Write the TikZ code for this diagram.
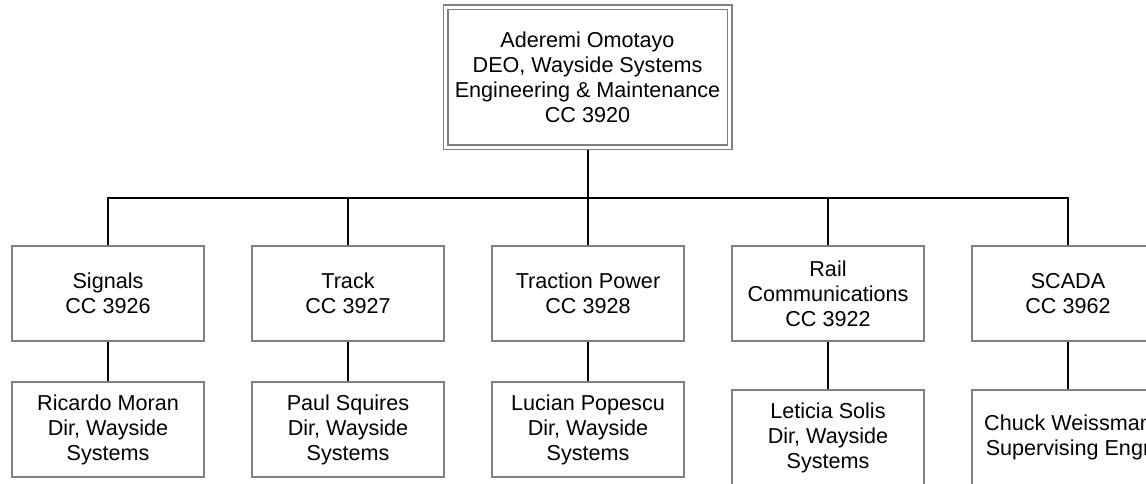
\documentclass[tikz,border=0pt]{standalone}
\usepackage{fontspec}
\setmainfont{Liberation Sans}
\usepackage{xcolor}
\usetikzlibrary{positioning,backgrounds}

\definecolor{boxgray}{RGB}{128,128,128}

\begin{document}
\begin{tikzpicture}[
  x=1pt, y=-1pt,
  unit/.style={draw=boxgray, line width=1.5pt, fill=white, align=center,
    minimum width=192pt, minimum height=95pt, inner sep=0pt, outer sep=0pt,
    font=\fontsize{21.6}{25}\selectfont},
  chief/.style={unit, double=white, double distance=3pt,
    minimum width=284pt, minimum height=140pt},
  link/.style={line width=2pt, black}
]
  \useasboundingbox (0,0) rectangle (1146,484);
  \clip (0,0) rectangle (1146,484);

  % Top of the chart
  \node[chief] (boss) at (587.5,77.5)
    {Aderemi Omotayo\\DEO, Wayside Systems\\Engineering \& Maintenance\\CC 3920};

  % Cost centres
  \node[unit] (signals) at (108,293.5) {Signals\\CC 3926};
  \node[unit, right=48pt of signals] (track) {Track\\CC 3927};
  \node[unit, right=48pt of track] (power) {Traction Power\\CC 3928};
  \node[unit, right=48pt of power] (comms) {Rail\\Communications\\CC 3922};
  \node[unit, right=48pt of comms] (scada) {SCADA\\CC 3962};

  % Heads of the cost centres
  \node[unit, below=41pt of signals] (moran) {Ricardo Moran\\Dir, Wayside\\Systems};
  \node[unit, below=41pt of track] (squires) {Paul Squires\\Dir, Wayside\\Systems};
  \node[unit, below=41pt of power] (popescu) {Lucian Popescu\\Dir, Wayside\\Systems};
  \node[unit, below=49pt of comms] (solis) {Leticia Solis\\Dir, Wayside\\Systems};
  \node[unit, below=49pt of scada] (weissman) {Chuck Weissman\\Supervising Engr};

  % Reporting lines
  \coordinate (bus) at (588,198);
  \begin{scope}[on background layer]
    \foreach \dept/\head in {signals/moran, track/squires, power/popescu,
                             comms/solis, scada/weissman} {
      \draw[link] (boss.south) |- (bus -| \dept.north) -- (\dept.north);
      \draw[link] (\dept.south) -- (\head.north);
    }
  \end{scope}
\end{tikzpicture}
\end{document}
